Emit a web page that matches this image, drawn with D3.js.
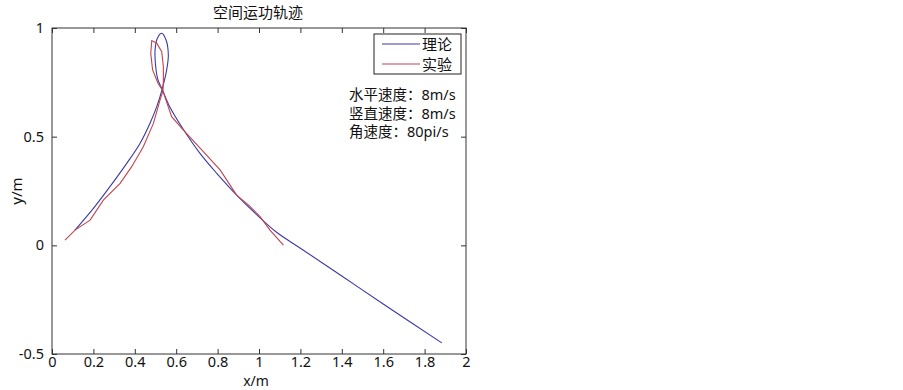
<!DOCTYPE html>
<html>
<head>
<meta charset="utf-8">
<script src="https://cdn.jsdelivr.net/npm/d3@7"></script>
<style>
  body { margin: 0; background: #fff; }
  svg text { font-family: "Noto Sans", "Noto Sans CJK SC", sans-serif; fill: #111; }
</style>
</head>
<body>
<div id="chart"></div>
<script>
// data (x/m, y/m)
const theoryX = [0.111, 0.200, 0.280, 0.361, 0.425, 0.473, 0.506, 0.532, 0.554, 0.562, 0.551, 0.530, 0.509, 0.498, 0.501, 0.512, 0.532, 0.570, 0.634, 0.715, 0.796, 0.892, 0.989, 1.085, 1.198, 1.400, 1.600, 1.883];
const theoryY = [0.070, 0.170, 0.270, 0.377, 0.469, 0.561, 0.638, 0.718, 0.807, 0.876, 0.945, 0.976, 0.953, 0.899, 0.822, 0.761, 0.718, 0.635, 0.534, 0.423, 0.331, 0.231, 0.141, 0.060, -0.012, -0.141, -0.270, -0.449];

const expX = [0.063, 0.111, 0.184, 0.248, 0.329, 0.385, 0.441, 0.490, 0.522, 0.536, 0.538, 0.538, 0.530, 0.506, 0.482, 0.477, 0.486, 0.512, 0.536, 0.578, 0.634, 0.731, 0.812, 0.892, 0.950, 1.005, 1.053, 1.118];
const expY = [0.024, 0.070, 0.116, 0.208, 0.285, 0.362, 0.454, 0.561, 0.669, 0.710, 0.761, 0.822, 0.891, 0.930, 0.942, 0.883, 0.807, 0.746, 0.710, 0.592, 0.531, 0.431, 0.347, 0.231, 0.185, 0.132, 0.070, 0.001];

const xTicks = [0, 0.2, 0.4, 0.6, 0.8, 1, 1.2, 1.4, 1.6, 1.8, 2];
const yTicks = [-0.5, 0, 0.5, 1];
const legendNames = ["理论", "实验"];
const notes = ["水平速度：8m/s", "竖直速度：8m/s", "角速度：80pi/s"];

const W = 903, H = 390;
const margin = {top: 28, right: 437, bottom: 36, left: 52},
  width = W - margin.left - margin.right,
  height = H - margin.top - margin.bottom;

const blue = "#3a3aa6", red = "#c0444c";

const svg = d3.select("#chart").append("svg")
  .attr("width", W).attr("height", H);

const g = svg.append("g")
  .attr("transform", "translate(" + margin.left + "," + margin.top + ")");

const x = d3.scaleLinear().domain([0, 2]).range([0, width]);
const y = d3.scaleLinear().domain([-0.5, 1]).range([height, 0]);

const fmt = d => String(d);

// MATLAB style axes: ticks inward on all sides
g.append("g").attr("transform", "translate(0," + height + ")")
  .call(d3.axisBottom(x).tickValues(xTicks).tickFormat(fmt).tickSizeInner(-5).tickSizeOuter(0).tickPadding(3));
g.append("g")
  .call(d3.axisTop(x).tickValues(xTicks).tickFormat("").tickSizeInner(-5).tickSizeOuter(0));
g.append("g")
  .call(d3.axisLeft(y).tickValues(yTicks).tickFormat(fmt).tickSizeInner(-5).tickSizeOuter(0).tickPadding(8));
g.append("g").attr("transform", "translate(" + width + ",0)")
  .call(d3.axisRight(y).tickValues(yTicks).tickFormat("").tickSizeInner(-5).tickSizeOuter(0));

g.selectAll(".domain").remove();
g.selectAll(".tick line").attr("stroke", "#333");
g.selectAll(".tick text").style("font-size", "14.5px").attr("fill", "#111");

g.append("rect")
  .attr("width", width).attr("height", height)
  .attr("fill", "none").attr("stroke", "#333").attr("stroke-width", 1);

const line = d3.line().x(d => x(d[0])).y(d => y(d[1]));

g.append("path")
  .datum(theoryX.map((v, i) => [v, theoryY[i]]))
  .attr("d", line.curve(d3.curveCatmullRom))
  .attr("fill", "none").attr("stroke", blue).attr("stroke-width", 1.1);

g.append("path")
  .datum(expX.map((v, i) => [v, expY[i]]))
  .attr("d", line.curve(d3.curveLinear))
  .attr("fill", "none").attr("stroke", red).attr("stroke-width", 1.1);

// title and axis labels
svg.append("text")
  .attr("x", 258).attr("y", 18)
  .attr("text-anchor", "middle")
  .style("font-size", "15px").style("font-family", "Noto Sans CJK SC")
  .text("空间运功轨迹");

svg.append("text")
  .attr("x", 256).attr("y", 385.5)
  .attr("text-anchor", "middle")
  .style("font-size", "14px")
  .text("x/m");

svg.append("text")
  .attr("transform", "translate(22,191) rotate(-90)")
  .attr("text-anchor", "middle")
  .style("font-size", "15px")
  .text("y/m");

// legend
const leg = g.append("g").attr("transform", "translate(" + (374 - margin.left) + "," + (34 - margin.top) + ")");
leg.append("rect")
  .attr("width", 87).attr("height", 40)
  .attr("fill", "#fff").attr("stroke", "#222").attr("stroke-width", 1);
legendNames.forEach((name, i) => {
  const ly = 10 + i * 20;
  leg.append("line")
    .attr("x1", 8).attr("x2", 46).attr("y1", ly).attr("y2", ly)
    .attr("stroke", i === 0 ? blue : red).attr("stroke-width", 1.1);
  leg.append("text")
    .attr("x", 48).attr("y", ly + 5.5)
    .style("font-size", "15px").style("font-family", "Noto Sans CJK SC")
    .text(name);
});

// parameter notes
notes.forEach((t, i) => {
  svg.append("text")
    .attr("x", 349).attr("y", 100 + i * 18.5)
    .style("font-size", "14.5px")
    .text(t);
});
</script>
</body>
</html>
